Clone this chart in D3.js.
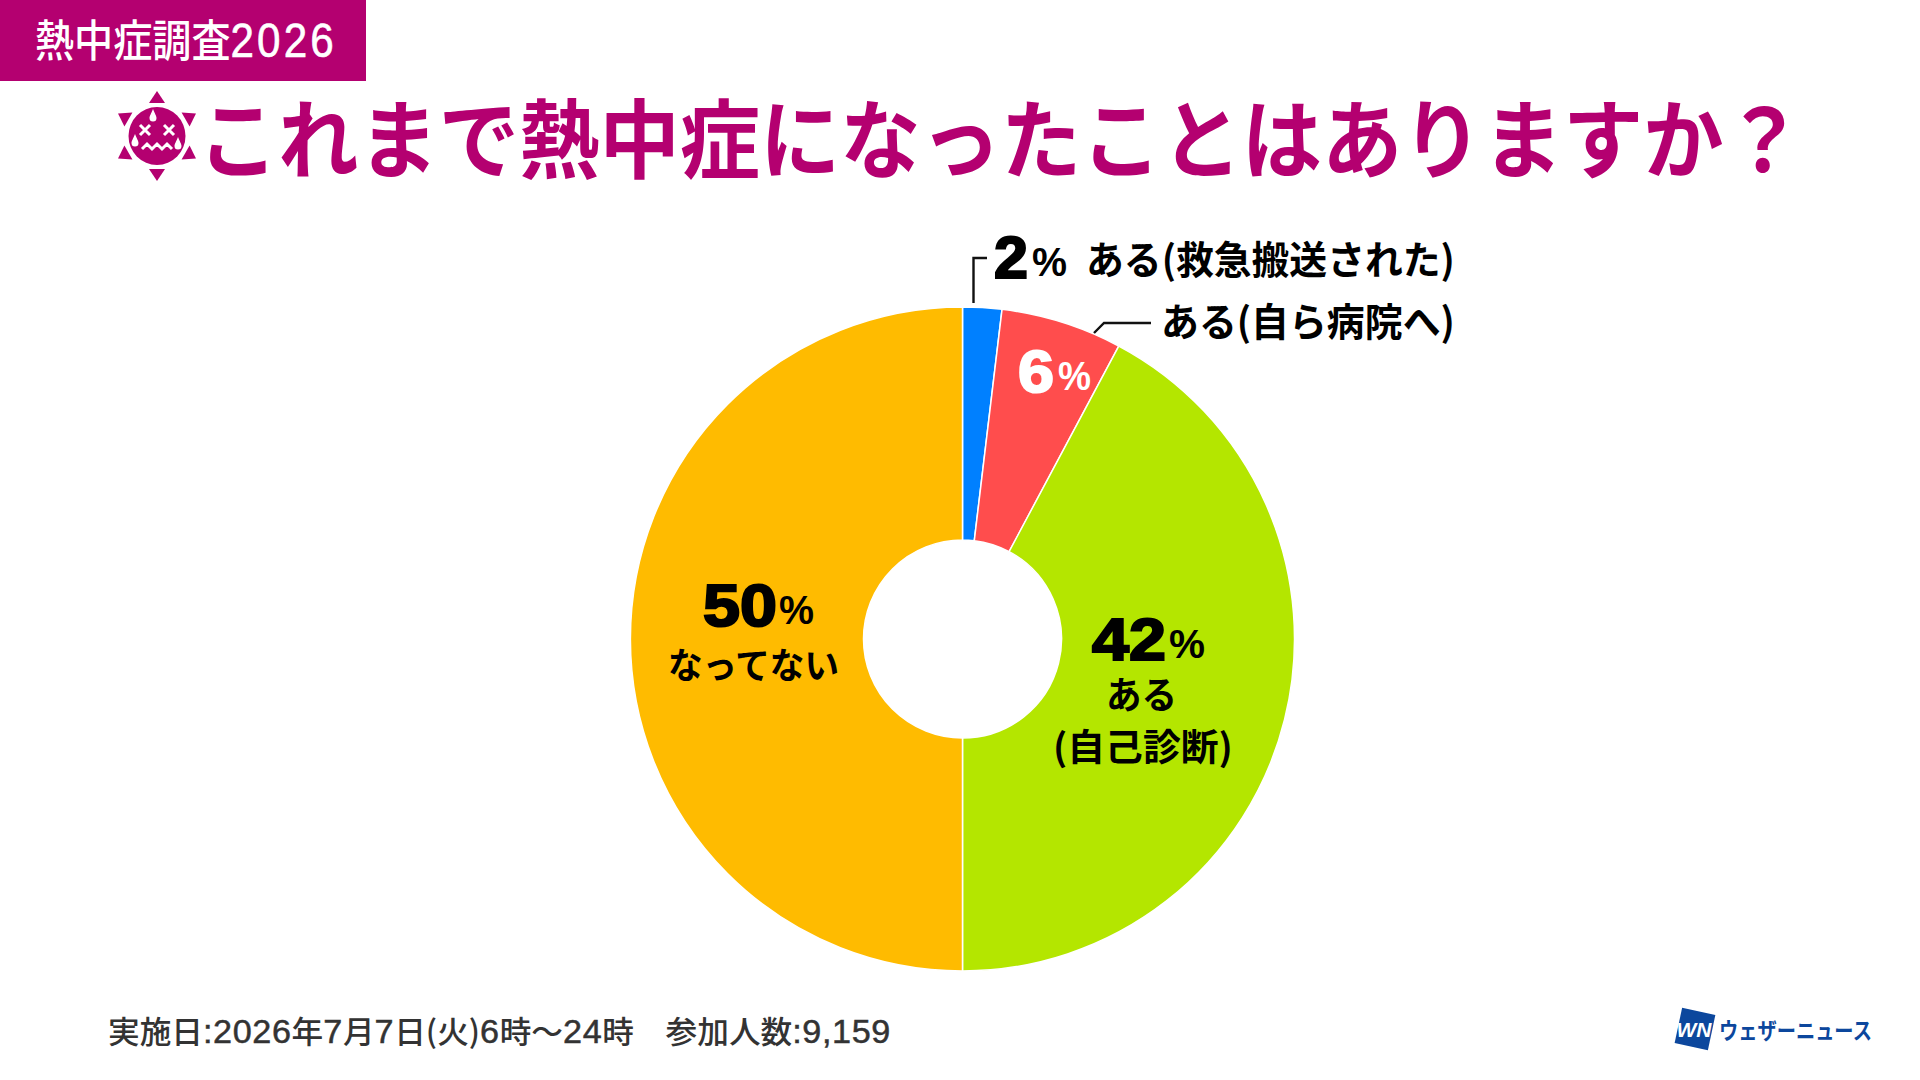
<!DOCTYPE html>
<html lang="ja">
<head>
<meta charset="utf-8">
<script src="https://cdn.jsdelivr.net/npm/d3@7"></script>
<style>
  html, body { margin: 0; background: #fff; }
  text { font-family: "Noto Sans CJK JP", sans-serif; }
</style>
</head>
<body>
<div id="chart"></div>
<script>
const categories = ["ある(救急搬送された)", "ある(自ら病院へ)", "ある", "(自己診断)", "なってない"];
const values = [1.9, 5.9, 42.2, 50];
const colors = ["#0080ff", "#ff4d4d", "#b4e600", "#ffbb00"];
const bannerText = "熱中症調査2026";
const titleText = "これまで熱中症になったことはありますか\uFF1F";
const footerText = "実施日:2026年7月7日(火)6時〜24時\u3000参加人数:9,159";
const brandText = "ウェザーニュース";

const magenta = "#b40070";
const latin = "'Liberation Sans', sans-serif";
const width = 1920, height = 1080;

const svg = d3.select("#chart").append("svg")
    .attr("width", width)
    .attr("height", height)
    .style("display", "block");

// text helper: digit runs go in the latin face (a bit larger and looser when
// asked), then the whole string is scaled sideways to the measured width
function label(x, y, str, size, weight, fill, w, digits = {}) {
    const t = svg.append("text")
        .attr("font-size", size)
        .attr("font-weight", weight)
        .attr("fill", fill);
    str.split(/([0-9,:%]+)/).filter(s => s).forEach(s => {
        const ts = t.append("tspan").text(s);
        if (/^[0-9,:%]/.test(s)) {
            ts.style("font-family", latin)
                .attr("font-size", size * (digits.scale || 1))
                .attr("letter-spacing", digits.spacing || 0)
                .attr("stroke", digits.stroke ? fill : null)
                .attr("stroke-width", digits.stroke || null);
        }
    });
    const sx = w ? w / t.node().getComputedTextLength() : 1;
    t.attr("transform", `translate(${x},${y}) scale(${sx},1)`);
    return t;
}

// header
svg.append("rect").attr("width", 366).attr("height", 81).attr("fill", magenta);
label(35, 57, bannerText, 44, 500, "#fff", 302, {scale: 1.08, spacing: 3.5, stroke: 0.6});

// sun icon
const icon = svg.append("g").attr("transform", "translate(157,136)");
icon.selectAll("path.ray")
    .data(d3.range(6))
    .enter().append("path")
    .attr("class", "ray")
    .attr("d", "M-8,-33 L8,-33 L0,-45 Z")
    .attr("transform", d => `rotate(${d * 60})`)
    .attr("fill", magenta);
icon.append("ellipse").attr("rx", 28.5).attr("ry", 29).attr("fill", magenta);
const eyes = icon.append("g").attr("stroke", "#fff").attr("stroke-width", 3).attr("fill", "none");
[-12, 12].forEach(cx => {
    eyes.append("path").attr("d", `M${cx - 5},-11 L${cx + 5},-1 M${cx + 5},-11 L${cx - 5},-1`);
});
eyes.append("path").attr("d", "M-15,13 L-10,8 L-5,13 L0,8 L5,13 L10,8 L15,13");
const drop = "M0,-7 C2,-2 3.5,0 3.5,2 A3.5,3.5 0 0 1 -3.5,2 C-3.5,0 -2,-2 0,-7 Z";
[[-4, -20], [-22, 5], [21, 8]].forEach(p => {
    icon.append("path").attr("d", drop).attr("fill", "#fff")
        .attr("transform", `translate(${p[0]},${p[1]})`);
});

label(198, 172, titleText, 86, 700, magenta, 1606);

// donut
const cx = 962.5, cy = 639;
const pie = d3.pie().sort(null).value(d => d)(values);
const arc = d3.arc().innerRadius(99).outerRadius(332);
svg.append("g")
    .attr("transform", `translate(${cx},${cy})`)
    .selectAll("path")
    .data(pie)
    .enter().append("path")
    .attr("d", arc)
    .attr("fill", (d, i) => colors[i])
    .attr("stroke", "#fff")
    .attr("stroke-width", 1.5);

// leader lines
const line = d3.line();
[[[973.5, 303], [973.5, 258], [987, 258]],
 [[1094, 333], [1104, 323], [1151, 323]]].forEach(pts => {
    svg.append("path").attr("d", line(pts))
        .attr("fill", "none").attr("stroke", "#111").attr("stroke-width", 2.4);
});

// slice labels
function pct(i, x, y, w, px, pw, fill) {
    label(x, y, String(Math.round(values[i])), 60, 700, fill, w)
        .attr("stroke", fill).attr("stroke-width", 2.2);
    label(px, y - 2, "%", 40, 700, fill, pw);
}
pct(0, 994, 278, 34, 1032, 35, "#000");
pct(1, 1018, 392, 36, 1058, 33, "#fff");
pct(2, 1092, 660, 74, 1169, 36, "#000");
pct(3, 703, 626, 74, 779, 35, "#000");

label(1086, 274, categories[0], 39, 700, "#000", 369);
label(1161, 336, categories[1], 39, 700, "#000", 294);
label(1106, 709, categories[2], 37, 700, "#000", 71);
label(1053, 761, categories[3], 37, 700, "#000", 180);
label(668, 679, categories[4], 36, 700, "#000", 171);

// footer
label(108, 1043, footerText, 31, 500, "#333", 783, {scale: 1.08, spacing: 0.6, stroke: 0.5});

// brand mark
const blue = "#0c479d";
svg.append("rect").attr("x", -17).attr("y", -18).attr("width", 34).attr("height", 36)
    .attr("transform", "translate(1695,1029) rotate(12)").attr("fill", blue);
svg.append("text").attr("x", 1694).attr("y", 1037).attr("text-anchor", "middle")
    .attr("font-size", 21).attr("font-weight", 700).attr("font-style", "italic")
    .style("font-family", latin).attr("fill", "#fff").text("WN");
label(1719, 1039, brandText, 23, 700, blue, 153);
</script>
</body>
</html>
